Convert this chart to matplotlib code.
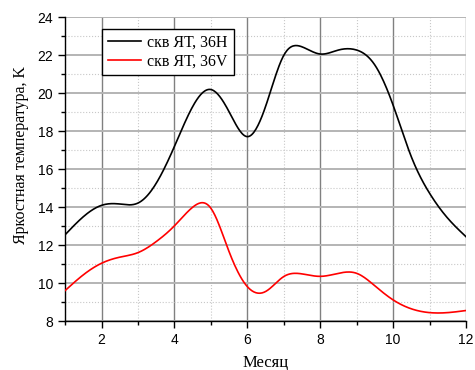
import numpy as np
import matplotlib.pyplot as plt
from matplotlib.ticker import MultipleLocator

# month values (half-month steps)
months = [1, 1.5, 2, 2.5, 3, 3.5, 4, 4.5, 5, 5.5, 6, 6.5,
          7, 7.5, 8, 8.5, 9, 9.5, 10, 10.5, 11, 11.5, 12]
tb_36h = [12.55, 13.5, 14.1, 14.17, 14.22, 15.26, 17.2, 19.3, 20.2, 19.03, 17.72, 19.3,
          22.0, 22.45, 22.07, 22.28, 22.28, 21.49, 19.38, 16.66, 14.74, 13.42, 12.45]
tb_36v = [9.61, 10.44, 11.05, 11.37, 11.61, 12.19, 13.02, 14.0, 13.95, 11.66, 9.82, 9.56,
          10.35, 10.49, 10.36, 10.52, 10.52, 9.86, 9.12, 8.65, 8.45, 8.45, 8.56]
labels = ['скв ЯТ, 36H', 'скв ЯТ, 36V']
colors = ['black', 'red']


def spline(x, y, n=400):
    # natural cubic spline, just for a smooth line like the original
    x = np.asarray(x, float)
    y = np.asarray(y, float)
    h = np.diff(x)
    k = len(x)
    A = np.zeros((k, k))
    b = np.zeros(k)
    A[0, 0] = A[-1, -1] = 1
    for i in range(1, k - 1):
        A[i, i - 1] = h[i - 1]
        A[i, i] = 2 * (h[i - 1] + h[i])
        A[i, i + 1] = h[i]
        b[i] = 6 * ((y[i + 1] - y[i]) / h[i] - (y[i] - y[i - 1]) / h[i - 1])
    m = np.linalg.solve(A, b)
    xs = np.linspace(x[0], x[-1], n)
    idx = np.clip(np.searchsorted(x, xs) - 1, 0, k - 2)
    t0 = xs - x[idx]
    t1 = x[idx + 1] - xs
    hh = h[idx]
    ys = (m[idx] * t1 ** 3 + m[idx + 1] * t0 ** 3) / (6 * hh) \
        + (y[idx] / hh - m[idx] * hh / 6) * t1 \
        + (y[idx + 1] / hh - m[idx + 1] * hh / 6) * t0
    return xs, ys


fig = plt.figure(figsize=(4.75, 3.7), dpi=100)
ax = fig.add_axes([0.137, 0.132, 0.844, 0.821])

for ys, lab, c in zip([tb_36h, tb_36v], labels, colors):
    sx, sy = spline(months, ys)
    ax.plot(sx, sy, color=c, lw=1.2, label=lab, zorder=3)

ax.set_xlim(1, 12)
ax.set_ylim(8, 24)
ax.xaxis.set_major_locator(MultipleLocator(2))
ax.xaxis.set_minor_locator(MultipleLocator(1))
ax.yaxis.set_major_locator(MultipleLocator(2))
ax.yaxis.set_minor_locator(MultipleLocator(1))

# grid like Origin: dark vertical majors, light horizontal majors, dotted minors
ax.grid(axis='x', which='major', color='#808080', lw=1.0)
ax.grid(axis='y', which='major', color='#b4b4b4', lw=1.4)
ax.grid(which='minor', color='#c8c8c8', lw=0.8, ls=':')
ax.set_axisbelow(True)

for s in ['top', 'right']:
    ax.spines[s].set_visible(False)
for s in ['left', 'bottom']:
    ax.spines[s].set_linewidth(1.0)

ax.tick_params(which='major', direction='out', length=5, width=1,
               labelsize=10, labelfontfamily='Liberation Sans')
ax.tick_params(which='minor', direction='out', length=3, width=1)

ax.set_xlabel('Месяц', family='Liberation Serif', fontsize=12, labelpad=6)
ax.set_ylabel('Яркостная температура, K', family='Liberation Serif', fontsize=11.5)
ax.yaxis.set_label_coords(-0.09, 0.547)

leg = ax.legend(loc='upper left', bbox_to_anchor=(0.092, 0.961), borderaxespad=0,
                prop={'family': 'Liberation Serif', 'size': 11.5},
                fancybox=False, edgecolor='black', framealpha=1,
                handlelength=2.1, handletextpad=0.4, borderpad=0.35, labelspacing=0.15)
leg.get_frame().set_linewidth(1.0)

fig.savefig('out.png', dpi=100)
